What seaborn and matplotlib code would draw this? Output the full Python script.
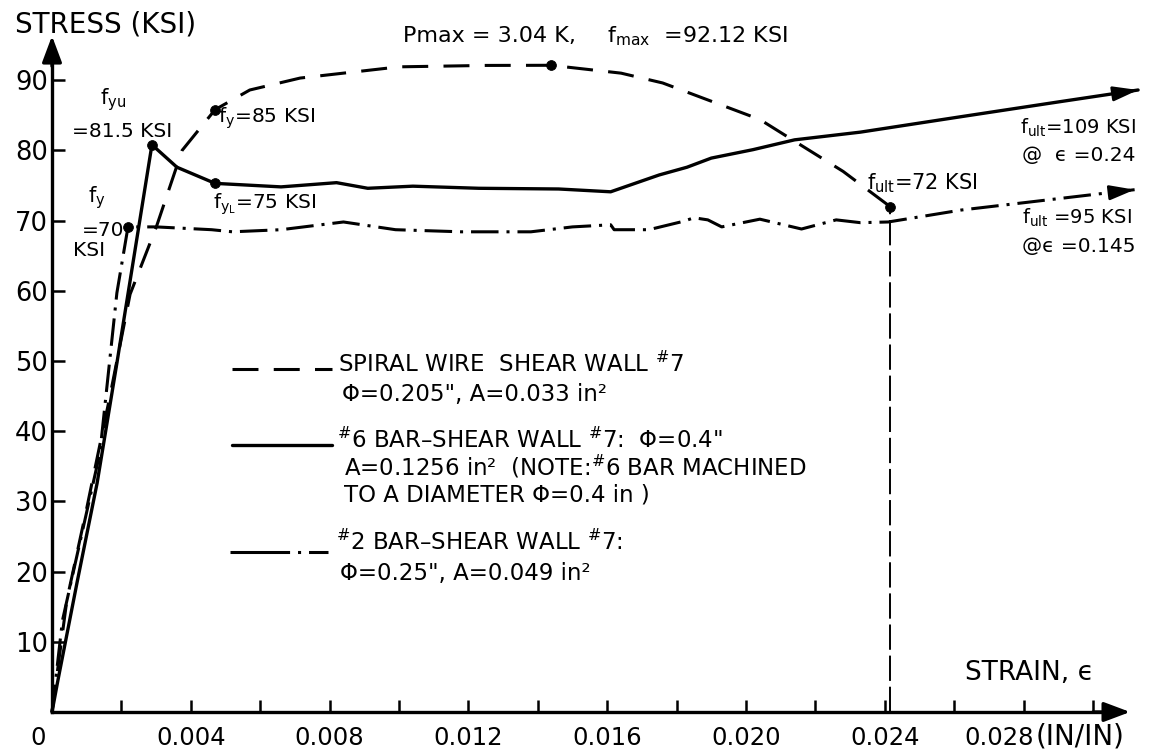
import matplotlib
matplotlib.use("Agg")
import matplotlib.pyplot as plt
from matplotlib.lines import Line2D
import seaborn as sns

# ---------------- data ----------------
spiral_strain = [0.0, 0.00043, 0.0010, 0.00167, 0.00225, 0.0030, 0.00375, 0.0047,
                 0.0057, 0.00715, 0.0100, 0.0125, 0.01438, 0.0164, 0.0176, 0.0190,
                 0.0204, 0.0215, 0.0228, 0.02415]
spiral_stress = [0.0, 16.0, 29.0, 45.0, 59.5, 69.0, 80.0, 85.8,
                 88.6, 90.3, 91.9, 92.1, 92.12, 91.0, 89.6, 87.0,
                 84.4, 81.0, 77.0, 72.0]

bar6_strain = [0.0, 0.00017, 0.00072, 0.0013, 0.00187, 0.00288, 0.0036, 0.0047,
               0.0066, 0.0082, 0.0091, 0.0104, 0.0123, 0.0146, 0.0161, 0.0175,
               0.0183, 0.0190, 0.0202, 0.0214, 0.0233, 0.0262, 0.0290, 0.0313]
bar6_stress = [0.0, 4.5, 18.4, 32.6, 49.7, 80.8, 77.6, 75.3,
               74.8, 75.4, 74.6, 74.9, 74.6, 74.5, 74.1, 76.5,
               77.6, 78.9, 80.1, 81.5, 82.6, 84.8, 86.9, 88.6]

bar2_strain = [0.0, 0.0003, 0.00138, 0.00187, 0.00219, 0.0030, 0.0046, 0.0052,
               0.0066, 0.0084, 0.0099, 0.0118, 0.0138, 0.0150, 0.0161, 0.0162,
               0.0172, 0.0182, 0.0185, 0.0189, 0.0193, 0.0204, 0.0216, 0.0226,
               0.0233, 0.0241, 0.0262, 0.0281, 0.0312]
bar2_stress = [0.0, 13.0, 36.9, 59.7, 69.1, 69.1, 68.7, 68.4,
               68.7, 69.8, 68.7, 68.4, 68.4, 69.1, 69.4, 68.7,
               68.7, 69.9, 70.4, 70.1, 69.1, 70.2, 68.8, 70.1,
               69.7, 69.8, 71.5, 72.6, 74.4]

# indices of the marked points on each curve
spiral_marks = [7, 12, 19]   # f_y=85, f_max, f_ult=72
bar6_marks = [5, 7]          # f_yu, f_yL
bar2_marks = [4]             # f_y=70

y_ticks = [10, 20, 30, 40, 50, 60, 70, 80, 90]
y_tick_labels = ["10", "20", "30", "40", "50", "60", "70", "80", "90"]
x_major = [0.004, 0.008, 0.012, 0.016, 0.020, 0.024, 0.028]
x_major_labels = ["0.004", "0.008", "0.012", "0.016", "0.020", "0.024", "0.028"]
x_minor = [0.002, 0.006, 0.010, 0.014, 0.018, 0.022, 0.026, 0.030]

# ---------------- style ----------------
sns.set_theme(style="white")
plt.rcParams["font.family"] = ["DejaVu Sans"]
plt.rcParams["mathtext.default"] = "regular"
plt.rcParams["axes.unicode_minus"] = False

W, H = 1150, 751
fig = plt.figure(figsize=(W / 100, H / 100), dpi=100)
ax = fig.add_axes([0, 0, 1, 1])
ax.set_facecolor("white")
ax.set_xlim(-0.0014986, 0.031643)
ax.set_ylim(-5.556, 101.42)

K = "black"
DASH = (0, (8.5, 5))
DASHDOT = (0, (9, 2.6, 1, 2.6))
DASHDOT_KEY = (0, (19.5, 2.6, 1, 2.6))

sns.lineplot(x=spiral_strain, y=spiral_stress, ax=ax, color=K, lw=2.2,
             sort=False, estimator=None, linestyle=DASH)
sns.lineplot(x=bar6_strain, y=bar6_stress, ax=ax, color=K, lw=2.4,
             sort=False, estimator=None)
sns.lineplot(x=bar2_strain, y=bar2_stress, ax=ax, color=K, lw=2.2,
             sort=False, estimator=None, linestyle=DASHDOT)

mx = ([spiral_strain[i] for i in spiral_marks] + [bar6_strain[i] for i in bar6_marks]
      + [bar2_strain[i] for i in bar2_marks])
my = ([spiral_stress[i] for i in spiral_marks] + [bar6_stress[i] for i in bar6_marks]
      + [bar2_stress[i] for i in bar2_marks])
sns.scatterplot(x=mx, y=my, ax=ax, color=K, s=50, edgecolor=K, zorder=5)

# dashed drop line from f_ult of the spiral wire
ax.vlines(spiral_strain[-1], 0, spiral_stress[-1], colors=K, lw=1.4,
          linestyles=(0, (13, 3)))

# arrow heads at the ends of the two bar curves
for xs, ys in ((bar6_strain, bar6_stress), (bar2_strain, bar2_stress)):
    x0 = xs[-2] + 0.9 * (xs[-1] - xs[-2])
    y0 = ys[-2] + 0.9 * (ys[-1] - ys[-2])
    ax.annotate("", xy=(xs[-1], ys[-1]), xytext=(x0, y0),
                arrowprops=dict(arrowstyle="-|>,head_length=0.75,head_width=0.22",
                                color=K, lw=2, shrinkA=0, shrinkB=0,
                                mutation_scale=20))

# ---------------- axes ----------------
for s in ("top", "right"):
    ax.spines[s].set_visible(False)
ax.spines["left"].set_position(("data", 0))
ax.spines["bottom"].set_position(("data", 0))
ax.spines["left"].set_bounds(0, 93)
ax.spines["bottom"].set_bounds(0, 0.0302)
for s in ("left", "bottom"):
    ax.spines[s].set_linewidth(2.4)
    ax.spines[s].set_color(K)

ax.annotate("", xy=(0, 96.3), xytext=(0, 92),
            arrowprops=dict(arrowstyle="-|>,head_length=0.8,head_width=0.3",
                            color=K, lw=2.4, shrinkA=0, shrinkB=0, mutation_scale=20))
ax.annotate("", xy=(0.03107, 0), xytext=(0.0300, 0),
            arrowprops=dict(arrowstyle="-|>,head_length=0.8,head_width=0.3",
                            color=K, lw=2.4, shrinkA=0, shrinkB=0, mutation_scale=20))

ax.set_yticks(y_ticks, labels=y_tick_labels)
# the last major label is drawn together with the unit, slightly to the left
ax.set_xticks(x_major, labels=x_major_labels[:-1] + [""])
ax.set_xticks(x_minor, minor=True)
ax.tick_params(axis="both", which="both", direction="in", length=9, width=1.8,
               colors=K, left=True, bottom=True)
ax.tick_params(axis="y", pad=3, labelsize=18.5)
ax.tick_params(axis="x", pad=10, labelsize=17.5)
ax.grid(False)


def put(text, xp, yp, size=14.5, **kw):
    fig.text(xp / W, 1 - yp / H, text, fontsize=size, ha="left", va="baseline",
             color=K, **kw)


# axis titles, zero and unit
put("STRESS (KSI)", 15, 32, size=20)
put("STRAIN, ϵ", 965, 680, size=19)
put("0", 30, 745, size=17.5)
put(x_major_labels[-1], 964, 745, size=17.5)
put("(IN/IN)", 1036, 745, size=20)

# point annotations
put("f$_{yu}$", 100, 104, size=15)
put("=81.5 KSI", 72, 137)
put("f$_{y}$", 88, 202, size=15)
put("=70", 82, 236)
put("KSI", 73, 256)
put("f$_{y}$=85 KSI", 218, 123)
put("f$_{y_L}$=75 KSI", 213, 209)
put("Pmax = 3.04 K,", 403, 42, size=16)
put("f$_{max}$  =92.12 KSI", 607, 42, size=16)
put("f$_{ult}$=72 KSI", 867, 189, size=15)
put("f$_{ult}$=109 KSI", 1020, 134, size=14)
put("@  ϵ =0.24", 1022, 161, size=14.5)
put("f$_{ult}$ =95 KSI", 1022, 224, size=14)
put("@ϵ =0.145", 1022, 252, size=14.5)

# legend (keys + text)
LS = 16.5
fig.add_artist(Line2D([232 / W, 332 / W], [1 - 369 / H] * 2, color=K, lw=2.2,
                      linestyle=DASH))
put("SPIRAL WIRE  SHEAR WALL $^{\\#}$7", 338, 372, size=LS)
put("Φ=0.205\", A=0.033 in²", 342, 401, size=LS)
fig.add_artist(Line2D([232 / W, 332 / W], [1 - 445 / H] * 2, color=K, lw=2.4))
put("$^{\\#}$6 BAR–SHEAR WALL $^{\\#}$7:  Φ=0.4\"", 337, 448, size=LS)
put("A=0.1256 in²  (NOTE:$^{\\#}$6 BAR MACHINED", 344, 475, size=LS)
put("TO A DIAMETER Φ=0.4 in )", 344, 502, size=LS)
fig.add_artist(Line2D([230 / W, 328 / W], [1 - 552 / H] * 2, color=K, lw=2.2,
                      linestyle=DASHDOT_KEY))
put("$^{\\#}$2 BAR–SHEAR WALL $^{\\#}$7:", 336, 550, size=LS)
put("Φ=0.25\", A=0.049 in²", 340, 580, size=LS)

fig.savefig("out.png", dpi=100, facecolor="white")
